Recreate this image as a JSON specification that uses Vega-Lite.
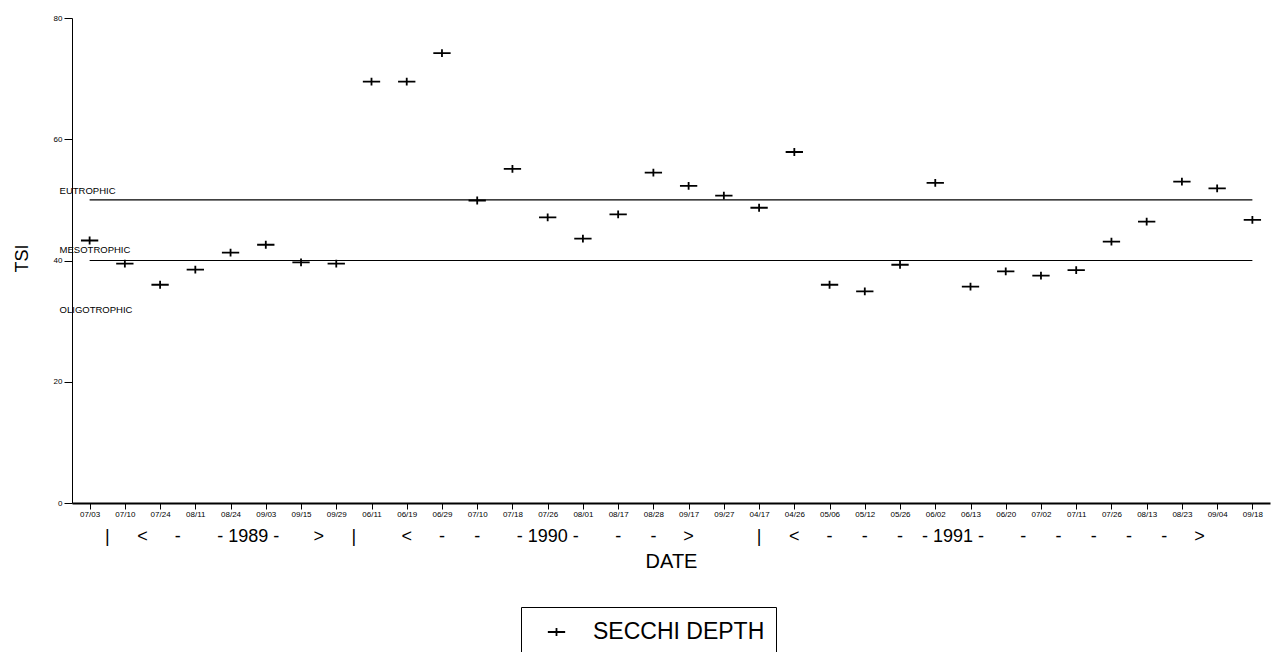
{
  "$schema": "https://vega.github.io/schema/vega-lite/v6.json",
  "width": 1198,
  "height": 485,
  "autosize": {"type": "none"},
  "padding": {"left": 72, "top": 18, "right": 2, "bottom": 149},
  "config": {
    "view": {"stroke": null},
    "font": "Liberation Sans",
    "axis": {"domainColor": "black", "tickColor": "black", "labelColor": "black", "titleColor": "black", "grid": false, "titleFontWeight": "normal"}
  },
  "datasets": {
    "secchi": [
      {"date": "1989 07/03", "tsi": 43.3},
      {"date": "1989 07/10", "tsi": 39.5},
      {"date": "1989 07/24", "tsi": 36.0},
      {"date": "1989 08/11", "tsi": 38.5},
      {"date": "1989 08/24", "tsi": 41.3},
      {"date": "1989 09/03", "tsi": 42.6},
      {"date": "1989 09/15", "tsi": 39.7},
      {"date": "1989 09/29", "tsi": 39.5},
      {"date": "1990 06/11", "tsi": 69.5},
      {"date": "1990 06/19", "tsi": 69.5},
      {"date": "1990 06/29", "tsi": 74.2},
      {"date": "1990 07/10", "tsi": 49.9},
      {"date": "1990 07/18", "tsi": 55.1},
      {"date": "1990 07/26", "tsi": 47.1},
      {"date": "1990 08/01", "tsi": 43.6},
      {"date": "1990 08/17", "tsi": 47.6},
      {"date": "1990 08/28", "tsi": 54.5},
      {"date": "1990 09/17", "tsi": 52.3},
      {"date": "1990 09/27", "tsi": 50.7},
      {"date": "1991 04/17", "tsi": 48.7},
      {"date": "1991 04/26", "tsi": 57.9},
      {"date": "1991 05/06", "tsi": 36.0},
      {"date": "1991 05/12", "tsi": 34.9},
      {"date": "1991 05/26", "tsi": 39.3},
      {"date": "1991 06/02", "tsi": 52.8},
      {"date": "1991 06/13", "tsi": 35.7},
      {"date": "1991 06/20", "tsi": 38.2},
      {"date": "1991 07/02", "tsi": 37.5},
      {"date": "1991 07/11", "tsi": 38.4},
      {"date": "1991 07/26", "tsi": 43.1},
      {"date": "1991 08/13", "tsi": 46.4},
      {"date": "1991 08/23", "tsi": 53.0},
      {"date": "1991 09/04", "tsi": 51.9},
      {"date": "1991 09/18", "tsi": 46.7}
    ],
    "bounds": [
      {"date": "1989 07/03", "tsi": 50, "zone": "EUTROPHIC"},
      {"date": "1991 09/18", "tsi": 50, "zone": "EUTROPHIC"},
      {"date": "1989 07/03", "tsi": 40, "zone": "MESOTROPHIC"},
      {"date": "1991 09/18", "tsi": 40, "zone": "MESOTROPHIC"}
    ],
    "zones": [
      {"date": "1989 07/03", "tsi": 51.5, "zone": "EUTROPHIC"},
      {"date": "1989 07/03", "tsi": 41.8, "zone": "MESOTROPHIC"},
      {"date": "1989 07/03", "tsi": 31.8, "zone": "OLIGOTROPHIC"}
    ],
    "yearsEdge": [
      {"date": "1989 07/10", "txt": "|"},
      {"date": "1989 07/24", "txt": "<"},
      {"date": "1989 08/11", "txt": "-"},
      {"date": "1989 09/03", "txt": "- 1989 -"},
      {"date": "1989 09/29", "txt": ">"},
      {"date": "1990 06/11", "txt": "|"},
      {"date": "1991 06/13", "txt": "- 1991 -"},
      {"date": "1991 07/02", "txt": "-"},
      {"date": "1991 07/11", "txt": "-"},
      {"date": "1991 07/26", "txt": "-"},
      {"date": "1991 08/13", "txt": "-"},
      {"date": "1991 08/23", "txt": "-"},
      {"date": "1991 09/04", "txt": ">"}
    ],
    "yearsCenter": [
      {"date": "1990 06/19", "txt": "<"},
      {"date": "1990 06/29", "txt": "-"},
      {"date": "1990 07/10", "txt": "-"},
      {"date": "1990 07/26", "txt": "- 1990 -"},
      {"date": "1990 08/17", "txt": "-"},
      {"date": "1990 08/28", "txt": "-"},
      {"date": "1990 09/17", "txt": ">"},
      {"date": "1991 04/17", "txt": "|"},
      {"date": "1991 04/26", "txt": "<"},
      {"date": "1991 05/06", "txt": "-"},
      {"date": "1991 05/12", "txt": "-"},
      {"date": "1991 05/26", "txt": "-"}
    ]
  },
  "layer": [
    {
      "mark": {"type": "rule", "color": "black", "strokeWidth": 1.2},
      "encoding": {"y": {"datum": 80, "type": "quantitative"}}
    },
    {
      "encoding": {
        "x": {
          "field": "date",
          "type": "nominal",
          "sort": null,
          "scale": {"type": "point", "padding": 0.5, "domain": ["1989 07/03","1989 07/10","1989 07/24","1989 08/11","1989 08/24","1989 09/03","1989 09/15","1989 09/29","1990 06/11","1990 06/19","1990 06/29","1990 07/10","1990 07/18","1990 07/26","1990 08/01","1990 08/17","1990 08/28","1990 09/17","1990 09/27","1991 04/17","1991 04/26","1991 05/06","1991 05/12","1991 05/26","1991 06/02","1991 06/13","1991 06/20","1991 07/02","1991 07/11","1991 07/26","1991 08/13","1991 08/23","1991 09/04","1991 09/18"]},
          "axis": {
            "labelExpr": "substring(datum.label, 5)",
            "labelAngle": 0,
            "labelFontSize": 8,
            "labelPadding": 1,
            "tickSize": 6,
            "domainWidth": 2,
            "title": "DATE",
            "titleFontSize": 20,
            "titleX": 599,
            "titleY": 58,
            "titleAlign": "center",
            "titleBaseline": "middle"
          }
        }
      },
      "layer": [
        {
          "data": {"name": "bounds"},
          "mark": {"type": "line", "color": "black", "strokeWidth": 1.2},
          "encoding": {
            "y": {"field": "tsi", "type": "quantitative"},
            "detail": {"field": "zone"}
          }
        },
        {
          "data": {"name": "secchi"},
          "mark": {"type": "point", "shape": "M-1,0H1M0,-0.45V0.45", "filled": false, "size": 300, "strokeWidth": 1.8, "opacity": 1},
          "encoding": {
            "y": {
              "field": "tsi",
              "type": "quantitative",
              "scale": {"domain": [0, 80], "nice": false, "zero": true},
              "axis": {
                "values": [0, 20, 40, 60, 80],
                "labelFontSize": 8,
                "tickSize": 8,
                "labelPadding": 2,
                "title": "TSI",
                "titleFontSize": 18,
                "titleX": -50,
                "titleY": 240,
                "titleAlign": "center",
                "titleBaseline": "middle"
              }
            },
            "color": {
              "datum": "SECCHI DEPTH",
              "type": "nominal",
              "scale": {"range": ["black"]},
              "legend": {
                "title": null,
                "orient": "none",
                "legendX": 449,
                "legendY": 589,
                "strokeColor": "black",
                "padding": 11,
                "symbolType": "M-1,0H1M0,-0.45V0.45",
                "symbolSize": 300,
                "symbolStrokeWidth": 1.8,
                "symbolStrokeColor": "black",
                "symbolOffset": 13,
                "labelOffset": 25,
                "labelFontSize": 23,
                "labelLimit": 0,
                "labelFont": "Liberation Sans",
                "labelColor": "black",
                "clipHeight": 28
              }
            }
          }
        },
        {
          "data": {"name": "zones"},
          "mark": {"type": "text", "align": "left", "baseline": "middle", "dx": -30, "fontSize": 9.5, "color": "black"},
          "encoding": {
            "y": {"field": "tsi", "type": "quantitative"},
            "text": {"field": "zone"}
          }
        },
        {
          "data": {"name": "yearsEdge"},
          "mark": {"type": "text", "align": "center", "baseline": "middle", "dx": -17.6, "dy": 34, "fontSize": 18, "color": "black"},
          "encoding": {
            "y": {"datum": 0, "type": "quantitative"},
            "text": {"field": "txt"}
          }
        },
        {
          "data": {"name": "yearsCenter"},
          "mark": {"type": "text", "align": "center", "baseline": "middle", "dy": 34, "fontSize": 18, "color": "black"},
          "encoding": {
            "y": {"datum": 0, "type": "quantitative"},
            "text": {"field": "txt"}
          }
        }
      ]
    }
  ]
}
